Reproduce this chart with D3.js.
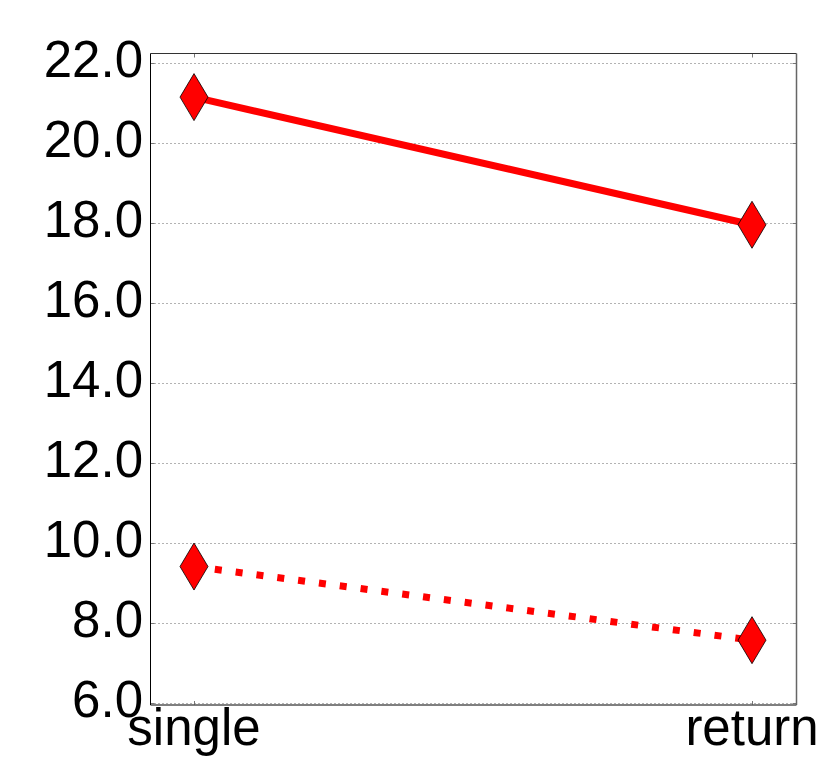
<!DOCTYPE html>
<html>
<head>
<meta charset="utf-8">
<script src="https://cdn.jsdelivr.net/npm/d3@7"></script>
<style>
  html, body { margin: 0; padding: 0; background: #fff; }
  svg { display: block; }
</style>
</head>
<body>
<svg id="chart" width="830" height="767"></svg>
<script>
const categories = ["single", "return"];
const solidValues = [21.15, 17.96];
const dottedValues = [9.42, 7.58];
const yTicks = [6, 8, 10, 12, 14, 16, 18, 20, 22];

const svg = d3.select("#chart");
const L = 150.5, R = 796.5, T = 53.5, B = 705;

const x = d3.scalePoint().domain(categories).range([194, 752]);
const y = d3.scaleLinear().domain([5.96, 22.24]).range([B, T]);

// gridlines
svg.append("g").selectAll("line").data(yTicks).join("line")
  .attr("x1", L).attr("x2", R)
  .attr("y1", d => Math.round(y(d)) + 0.5).attr("y2", d => Math.round(y(d)) + 0.5)
  .attr("stroke", "#666").attr("stroke-width", 1).attr("stroke-dasharray", "1,3");

// ticks (inside)
const tk = svg.append("g").attr("stroke", "#777").attr("stroke-width", 1);
yTicks.forEach(d => {
  const yy = Math.round(y(d)) + 0.5;
  tk.append("line").attr("x1", L).attr("x2", L + 4).attr("y1", yy).attr("y2", yy);
  tk.append("line").attr("x1", R).attr("x2", R - 4).attr("y1", yy).attr("y2", yy);
});
categories.forEach(c => {
  const xx = Math.round(x(c)) + 0.5;
  tk.append("line").attr("x1", xx).attr("x2", xx).attr("y1", B).attr("y2", B - 4);
  tk.append("line").attr("x1", xx).attr("x2", xx).attr("y1", T).attr("y2", T + 4);
});

// frame
svg.append("line").attr("x1", L).attr("x2", R).attr("y1", T).attr("y2", T).attr("stroke", "#333");
svg.append("line").attr("x1", R).attr("x2", R).attr("y1", T).attr("y2", B).attr("stroke", "#666").attr("stroke-width", 1.5);
svg.append("line").attr("x1", L).attr("x2", R).attr("y1", B).attr("y2", B).attr("stroke", "#555").attr("stroke-width", 1.5);
svg.append("line").attr("x1", L).attr("x2", L).attr("y1", T).attr("y2", B).attr("stroke", "#000");

// lines
const line = d3.line().x((d, i) => x(categories[i])).y(d => y(d));
svg.append("path").datum(solidValues).attr("d", line)
  .attr("fill", "none").attr("stroke", "#ff0000").attr("stroke-width", 7);
svg.append("path").datum(dottedValues).attr("d", line)
  .attr("fill", "none").attr("stroke", "#ff0000").attr("stroke-width", 7)
  .attr("stroke-dasharray", "7,14");

// diamonds
const dia = "M0,-23.5 L14,0 L0,23.5 L-14,0 Z";
[solidValues, dottedValues].forEach(vals => {
  svg.append("g").selectAll("path").data(vals).join("path")
    .attr("d", dia)
    .attr("transform", (d, i) => `translate(${x(categories[i])},${y(d)})`)
    .attr("fill", "#ff0000").attr("stroke", "#000").attr("stroke-width", 0.8);
});

// y tick labels
svg.append("g").selectAll("text").data(yTicks).join("text")
  .attr("x", 143).attr("y", d => y(d) + 13.5)
  .attr("text-anchor", "end")
  .attr("font-family", "'Liberation Sans', Arial, sans-serif")
  .attr("font-size", 51).attr("fill", "#000")
  .text(d => d.toFixed(1));

// x tick labels
svg.append("g").selectAll("text").data(categories).join("text")
  .attr("x", d => x(d)).attr("y", 745)
  .attr("text-anchor", "middle")
  .attr("font-family", "'Liberation Sans', Arial, sans-serif")
  .attr("font-size", 51).attr("fill", "#000")
  .text(d => d);
</script>
</body>
</html>
